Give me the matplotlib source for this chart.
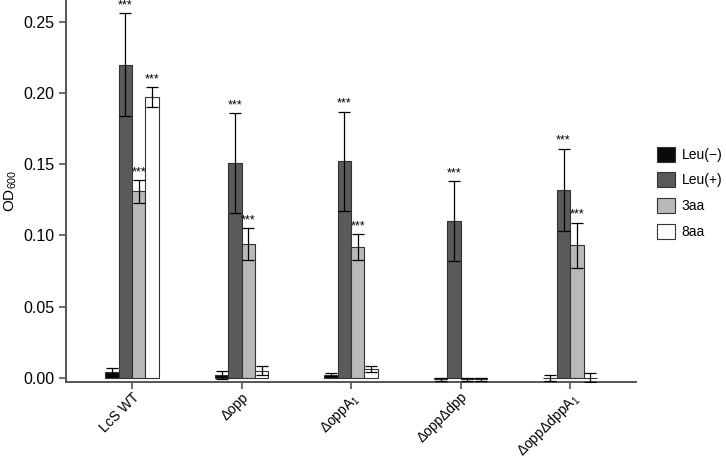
import matplotlib
matplotlib.use("Agg")
import matplotlib.pyplot as plt
from matplotlib.patches import Patch
import numpy as np

plt.rcParams['font.family'] = ['Liberation Sans', 'DejaVu Sans']
plt.rcParams['mathtext.fontset'] = 'custom'
plt.rcParams['mathtext.rm'] = 'Liberation Sans'
plt.rcParams['mathtext.it'] = 'Liberation Sans:italic'

categories = ['LcS WT', 'Δopp', r'ΔoppA$\mathregular{_1}$', 'ΔoppΔdpp', r'ΔoppΔdppA$\mathregular{_1}$']
series = ['Leu(−)', 'Leu(+)', '3aa', '8aa']
leu_minus = [0.004, 0.002, 0.002, -0.001, 0.000]
leu_minus_err = [0.003, 0.003, 0.001, 0.001, 0.002]
leu_plus = [0.220, 0.151, 0.152, 0.110, 0.132]
leu_plus_err = [0.036, 0.035, 0.035, 0.028, 0.029]
aa3 = [0.131, 0.094, 0.092, -0.001, 0.093]
aa3_err = [0.008, 0.011, 0.009, 0.001, 0.016]
aa8 = [0.197, 0.005, 0.006, -0.001, 0.000]
aa8_err = [0.007, 0.003, 0.002, 0.001, 0.003]
signif = [[False, True, True, True],
          [False, True, True, False],
          [False, True, True, False],
          [False, True, False, False],
          [False, True, True, False]]
colors = ['#0a0a0a', '#5a5a5a', '#b9b9b9', '#ffffff']
yticks = [0.00, 0.05, 0.10, 0.15, 0.20, 0.25]

values = [leu_minus, leu_plus, aa3, aa8]
errors = [leu_minus_err, leu_plus_err, aa3_err, aa8_err]

fig = plt.figure(figsize=(7.26, 4.61), dpi=100)
ax = fig.add_axes([0.0909, 0.172, 0.785, 0.828])

x = np.arange(len(categories))
w = 0.122
for i in range(4):
    xs = x + (i - 1.5) * w
    ax.bar(xs, values[i], width=w, color=colors[i], edgecolor='#333333', linewidth=0.8, zorder=2)
    ax.errorbar(xs, values[i], yerr=errors[i], fmt='none', ecolor='black',
                elinewidth=0.9, capsize=4.4, capthick=0.9, zorder=3)
    for j in range(len(categories)):
        if signif[j][i]:
            ax.text(xs[j], values[i][j] + errors[i][j] + 0.0012, '***', ha='center', va='bottom',
                    fontsize=9, zorder=4)

ax.set_xlim(-0.603, 4.60)
ax.set_ylim(-0.0028, 0.2654)
ax.set_xticks(x)
ax.set_xticklabels(categories, rotation=45, ha='right', rotation_mode='anchor', fontsize=10)
ax.set_yticks(yticks)
ax.set_yticklabels(['%.2f' % v for v in yticks], fontsize=11.5)
ax.set_ylabel(r'OD$\mathregular{_{600}}$', fontsize=11, labelpad=3)
for s in ['top', 'right']:
    ax.spines[s].set_visible(False)
for s in ['left', 'bottom']:
    ax.spines[s].set_color('#555555')
    ax.spines[s].set_linewidth(1.4)
ax.tick_params(axis='both', colors='#555555', labelcolor='black', length=5, width=1.2)
ax.tick_params(axis='x', pad=1)

handles = [Patch(facecolor=c, edgecolor='#333333', linewidth=0.8) for c in colors]
fig.legend(handles, series, loc='upper left', bbox_to_anchor=(0.894, 0.70), frameon=False,
           fontsize=10, handlelength=1.3, handleheight=1.3, handletextpad=0.45, labelspacing=0.75,
           borderaxespad=0.2)

fig.savefig('out.png', dpi=100)
